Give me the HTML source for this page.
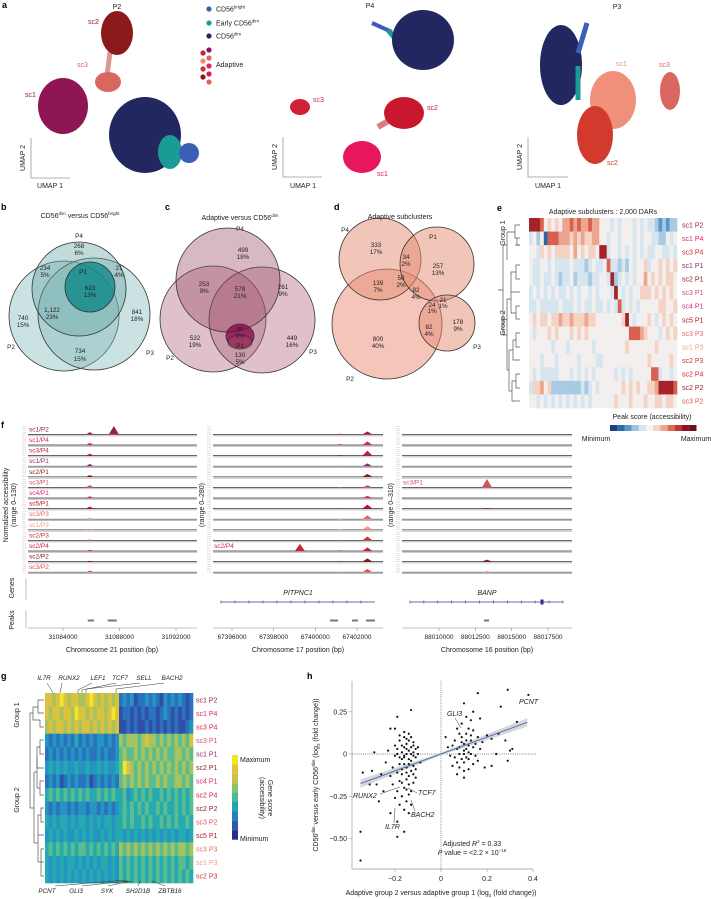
<!DOCTYPE html>
<html><head><meta charset="utf-8">
<style>
html,body{margin:0;padding:0;background:#fff;}
svg{display:block;font-family:"Liberation Sans",sans-serif;}
text{fill:#222;}
.lt{font-weight:bold;font-size:9px;fill:#000;}
.t7{font-size:7px;}
.t6{font-size:6.3px;}
.it{font-style:italic;}
</style></head>
<body>
<svg id="fig" width="711" height="899" viewBox="0 0 711 899">
<rect width="711" height="899" fill="#fff"/>

<!-- ===== Panel a ===== -->
<g>
<text class="lt" x="2" y="8">a</text>
<g>
<text class="t7" x="117" y="9" text-anchor="middle">P2</text>
<path d="M110 52 Q108 68 107 75" stroke="#c5524e" stroke-width="5" fill="none" opacity="0.6"/>
<ellipse cx="117" cy="33" rx="16" ry="22" fill="#8b1a1a"/>
<ellipse cx="108" cy="82" rx="13" ry="10" fill="#d9675f"/>
<ellipse cx="63" cy="106" rx="25" ry="28" fill="#8e1654"/>
<ellipse cx="145" cy="135" rx="36" ry="38" fill="#23275f"/>
<ellipse cx="170" cy="152" rx="12" ry="17" fill="#1b9b96"/>
<ellipse cx="189" cy="153" rx="10" ry="10" fill="#3a5fb5"/>
<text class="t7" x="88" y="24" style="fill:#8b1a1a">sc2</text>
<text class="t7" x="77" y="67" style="fill:#d9675f">sc3</text>
<text class="t7" x="25" y="97" style="fill:#8e1654">sc1</text>
<path d="M31 138 V178 H70" stroke="#999" stroke-width="0.8" fill="none"/>
<text class="t7" transform="translate(25,158) rotate(-90)" text-anchor="middle">UMAP 2</text>
<text class="t7" x="50" y="188" text-anchor="middle">UMAP 1</text>
</g>
<g>
<circle cx="209" cy="9" r="2.6" fill="#3a5fb5"/><text class="t7" x="216" y="11.5">CD56<tspan font-size="4.5" dy="-3">bright</tspan></text>
<circle cx="209" cy="23" r="2.6" fill="#1b9b96"/><text class="t7" x="216" y="25.5">Early CD56<tspan font-size="4.5" dy="-3">dim</tspan></text>
<circle cx="209" cy="36" r="2.6" fill="#23275f"/><text class="t7" x="216" y="38.5">CD56<tspan font-size="4.5" dy="-3">dim</tspan></text>
<circle cx="203" cy="53" r="2.6" fill="#d0213a"/><circle cx="209" cy="50" r="2.6" fill="#8e1654"/>
<circle cx="203" cy="61" r="2.6" fill="#f08a70"/><circle cx="209" cy="58" r="2.6" fill="#d9675f"/>
<circle cx="203" cy="69" r="2.6" fill="#d03030"/><circle cx="209" cy="66" r="2.6" fill="#e0206a"/>
<circle cx="203" cy="77" r="2.6" fill="#8b1a1a"/><circle cx="209" cy="74" r="2.6" fill="#d0213a"/>
<circle cx="209" cy="82" r="2.6" fill="#d9675f"/>
<text class="t7" x="216" y="67">Adaptive</text>
</g>
<g>
<text class="t7" x="370" y="8" text-anchor="middle">P4</text>
<path d="M372 23 L392 32" stroke="#3a5fb5" stroke-width="4" fill="none"/>
<path d="M388 30 L398 42" stroke="#1b9b96" stroke-width="5" fill="none"/>
<ellipse cx="423" cy="40" rx="31" ry="30" fill="#23275f"/>
<ellipse cx="300" cy="107" rx="10" ry="8" fill="#d0213a"/>
<path d="M378 127 L395 117" stroke="#c8203c" stroke-width="6" fill="none" opacity="0.6"/>
<ellipse cx="404" cy="113" rx="20" ry="16" fill="#c8182e"/>
<ellipse cx="362" cy="157" rx="19" ry="16" fill="#e8165f"/>
<text class="t7" x="313" y="102" style="fill:#d0213a">sc3</text>
<text class="t7" x="427" y="110" style="fill:#c8182e">sc2</text>
<text class="t7" x="377" y="176" style="fill:#e8165f">sc1</text>
<path d="M283 137 V177 H322" stroke="#999" stroke-width="0.8" fill="none"/>
<text class="t7" transform="translate(277,157) rotate(-90)" text-anchor="middle">UMAP 2</text>
<text class="t7" x="303" y="188" text-anchor="middle">UMAP 1</text>
</g>
<g>
<text class="t7" x="617" y="9" text-anchor="middle">P3</text>
<ellipse cx="561" cy="65" rx="21" ry="40" fill="#23275f"/>
<path d="M587 23 L578 53" stroke="#3a5fb5" stroke-width="5" fill="none"/>
<path d="M578 66 L578 100" stroke="#1b9b96" stroke-width="5" fill="none"/>
<ellipse cx="613" cy="100" rx="23" ry="29" fill="#f0907a"/>
<ellipse cx="595" cy="135" rx="18" ry="29" fill="#d23a2e"/>
<ellipse cx="670" cy="91" rx="10" ry="19" fill="#d9675f"/>
<text class="t7" x="616" y="66" style="fill:#f0907a">sc1</text>
<text class="t7" x="659" y="67" style="fill:#d9675f">sc3</text>
<text class="t7" x="607" y="165" style="fill:#d23a2e">sc2</text>
<path d="M528 137 V177 H568" stroke="#999" stroke-width="0.8" fill="none"/>
<text class="t7" transform="translate(522,157) rotate(-90)" text-anchor="middle">UMAP 2</text>
<text class="t7" x="548" y="188" text-anchor="middle">UMAP 1</text>
</g>
</g>

<!-- ===== Panel b ===== -->
<g stroke="#333" stroke-width="0.8">
<circle cx="64" cy="316" r="55" fill="rgba(130,185,185,0.42)"/>
<circle cx="94" cy="314" r="56" fill="rgba(130,185,185,0.42)"/>
<circle cx="79" cy="289" r="47" fill="rgba(100,165,165,0.40)"/>
<circle cx="90" cy="287" r="25" fill="rgba(0,130,130,0.72)"/>
</g>
<g>
<text class="lt" x="1" y="210">b</text>
<text class="t7" x="80" y="218" text-anchor="middle">CD56<tspan font-size="4.5" dy="-3">dim</tspan><tspan dy="3"> versus CD56</tspan><tspan font-size="4.5" dy="-3">bright</tspan></text>
<g class="t6" text-anchor="middle">
<text x="79" y="238">P4</text><text x="79" y="248">268</text><text x="79" y="255">6%</text>
<text x="45" y="270">234</text><text x="45" y="277">5%</text>
<text x="119" y="270">21</text><text x="119" y="277">4%</text>
<text x="83" y="274">P1</text><text x="90" y="290">623</text><text x="90" y="297">13%</text>
<text x="52" y="312">1,122</text><text x="52" y="319">23%</text>
<text x="23" y="320">740</text><text x="23" y="327">15%</text>
<text x="137" y="314">841</text><text x="137" y="321">18%</text>
<text x="80" y="353">734</text><text x="80" y="361">15%</text>
<text x="11" y="349">P2</text><text x="150" y="355">P3</text>
</g>
</g>

<!-- ===== Panel c ===== -->
<g stroke="#333" stroke-width="0.8">
<circle cx="213" cy="319" r="53" fill="rgba(170,90,120,0.38)"/>
<circle cx="262" cy="320" r="53" fill="rgba(170,90,120,0.38)"/>
<circle cx="228" cy="280" r="52" fill="rgba(150,70,100,0.38)"/>
<ellipse cx="240" cy="336" rx="14" ry="12" fill="rgba(140,0,70,0.75)"/>
<ellipse cx="240" cy="342" rx="12" ry="7" fill="rgba(170,90,120,0.3)"/>
</g>
<g>
<text class="lt" x="165" y="210">c</text>
<text class="t7" x="240" y="220" text-anchor="middle">Adaptive versus CD56<tspan font-size="4.5" dy="-3">dim</tspan></text>
<g class="t6" text-anchor="middle">
<text x="240" y="231">P4</text><text x="243" y="252">499</text><text x="243" y="259">18%</text>
<text x="204" y="286">253</text><text x="204" y="293">9%</text>
<text x="240" y="291">578</text><text x="240" y="298">21%</text>
<text x="283" y="289">261</text><text x="283" y="296">9%</text>
<text x="195" y="340">532</text><text x="195" y="347">19%</text>
<text x="292" y="340">449</text><text x="292" y="347">16%</text>
<text x="240" y="331">90</text><text x="240" y="338">3%</text>
<text x="240" y="348">P1</text><text x="240" y="357">130</text><text x="240" y="364">5%</text>
<text x="170" y="360">P2</text><text x="313" y="354">P3</text>
</g>
</g>

<!-- ===== Panel d ===== -->
<g stroke="#333" stroke-width="0.8">
<circle cx="387" cy="324" r="55" fill="rgba(235,150,125,0.55)"/>
<circle cx="380" cy="259" r="41" fill="rgba(230,140,115,0.5)"/>
<circle cx="437" cy="264" r="37" fill="rgba(230,140,115,0.5)"/>
<circle cx="447" cy="323" r="28" fill="rgba(230,140,115,0.5)"/>
</g>
<g>
<text class="lt" x="334" y="210">d</text>
<text class="t7" x="400" y="219" text-anchor="middle">Adaptive subclusters</text>
<g class="t6" text-anchor="middle">
<text x="345" y="232">P4</text><text x="376" y="247">333</text><text x="376" y="254">17%</text>
<text x="433" y="239">P1</text>
<text x="406" y="259">34</text><text x="406" y="266">2%</text>
<text x="438" y="268">257</text><text x="438" y="275">13%</text>
<text x="378" y="285">139</text><text x="378" y="292">7%</text>
<text x="401" y="280">50</text><text x="401" y="287">2%</text>
<text x="416" y="292">82</text><text x="416" y="299">4%</text>
<text x="432" y="307">24</text><text x="432" y="313">1%</text>
<text x="443" y="302">21</text><text x="443" y="308">1%</text>
<text x="429" y="329">82</text><text x="429" y="336">4%</text>
<text x="458" y="324">178</text><text x="458" y="331">9%</text>
<text x="378" y="341">800</text><text x="378" y="348">40%</text>
<text x="477" y="349">P3</text><text x="350" y="381">P2</text>
</g>
</g>

<!-- ===== Panel e ===== -->
<g>
<text class="lt" x="497" y="211">e</text>
<text class="t7" x="603" y="214" text-anchor="middle">Adaptive subclusters : 2,000 DARs</text>
<g id="eHeat"></g>
<g id="eLabels"></g>
<g stroke="#555" stroke-width="0.7" fill="none">
<path d="M520 225 H515 V238 H520 M520 245 H517 V238"/>
<path d="M515 232 H507 V260 M520 245 H515"/>
<path d="M520 265 H516 V279 H520 M516 272 H511 V285 M520 292 H511"/>
<path d="M520 306 H516 V319 H520 M516 313 H511"/>
<path d="M520 333 H516 V347 H520 M516 340 H513 V360 H520 M513 350 H509"/>
<path d="M520 374 H516 V388 H520 M516 381 H512 V401 H520 M512 391 H509"/>
<path d="M511 285 V313 M511 299 H507 M509 350 V391 M509 370 H507 M507 299 V370 M507 335 H503 M507 245 H503 M503 245 V335 M503 290 H498"/>
</g>
<text class="t7" transform="translate(505,233) rotate(-90)" text-anchor="middle">Group 1</text>
<text class="t7" transform="translate(505,323) rotate(-90)" text-anchor="middle">Group 2</text>
<text class="t7" x="652" y="419" text-anchor="middle">Peak score (accessibility)</text>
<g id="eBar"></g>
<text class="t7" x="596" y="441" text-anchor="middle">Minimum</text>
<text class="t7" x="696" y="441" text-anchor="middle">Maximum</text>
</g>

<!-- ===== Panel f ===== -->
<g>
<text class="lt" x="1" y="428">f</text>
<text class="t7" transform="translate(8,505) rotate(-90)" text-anchor="middle">Normalized accessibility</text>
<text class="t7" transform="translate(16,505) rotate(-90)" text-anchor="middle">(range 0–130)</text>
<text class="t7" transform="translate(204,505) rotate(-90)" text-anchor="middle">(range 0–280)</text>
<text class="t7" transform="translate(393,505) rotate(-90)" text-anchor="middle">(range 0–310)</text>
<g id="fTracks"></g>
<text class="t7" transform="translate(14,588) rotate(-90)" text-anchor="middle">Genes</text>
<text class="t7" transform="translate(14,620) rotate(-90)" text-anchor="middle">Peaks</text>
<line x1="26" y1="578" x2="26" y2="600" stroke="#999" stroke-width="0.6"/>
<line x1="26" y1="610" x2="26" y2="628" stroke="#999" stroke-width="0.6"/>
<text class="t7 it" x="298" y="595" text-anchor="middle">PITPNC1</text>
<text class="t7 it" x="487" y="595" text-anchor="middle">BANP</text>
<g id="fGenes"></g>
<g id="fAxes"></g>
</g>

<!-- ===== Panel g ===== -->
<g>
<text class="lt" x="1" y="679">g</text>
<g id="gHeat"></g>
<g id="gLabels"></g>
<g class="t6 it" text-anchor="middle">
<text x="44" y="680">IL7R</text>
<text x="69" y="680">RUNX2</text>
<text x="98" y="680">LEF1</text>
<text x="120" y="680">TCF7</text>
<text x="144" y="680">SELL</text>
<text x="172" y="680">BACH2</text>
<text x="47" y="893">PCNT</text>
<text x="76" y="893">GLI3</text>
<text x="107" y="893">SYK</text>
<text x="138" y="893">SH2D1B</text>
<text x="170" y="893">ZBTB16</text>
</g>
<g stroke="#333" stroke-width="0.5" fill="none">
<path d="M47 683 L53 693 M62 683 L60 693 M92 683 L78 690 V693 M116 683 L82 690 V693 M140 683 L86 689 V693 M164 683 L116 689 V693"/>
<path d="M55 886 L126 880 V883 M82 886 L128 881 V883 M108 886 L131 881 V883 M138 886 L140 881 V883 M165 886 L152 881 V883"/>
</g>
<g stroke="#555" stroke-width="0.7" fill="none">
<path d="M44 700 H38 V713 H44 M44 727 H40 V720 M38 707 H33 V720 H40"/>
<path d="M44 740 H40 V754 H44 M40 747 H37 V768 H44 M44 781 H40 V795 H44 M40 788 H37"/>
<path d="M44 808 H41 V822 H44 M41 815 H38 V835 H44 M44 849 H41 V876 H44 M44 862 H41 M41 862 H38 M38 825 V862"/>
<path d="M37 757 V788 M37 772 H34 M38 843 H34 M34 772 V843 M34 808 H30 M33 713 H30 V808"/>
</g>
<text class="t7" transform="translate(19,715) rotate(-90)" text-anchor="middle">Group 1</text>
<text class="t7" transform="translate(19,800) rotate(-90)" text-anchor="middle">Group 2</text>
<g id="gBar"></g>
<text class="t7" x="240" y="762">Maximum</text>
<text class="t7" x="240" y="841">Minimum</text>
<text class="t7" transform="translate(268,798) rotate(90)" text-anchor="middle">Gene score</text>
<text class="t7" transform="translate(260,798) rotate(90)" text-anchor="middle">(accessibility)</text>
</g>

<!-- ===== Panel h ===== -->
<g>
<text class="lt" x="307" y="679">h</text>
<g id="hPlot"></g>
<text class="t7" transform="translate(318,775) rotate(-90)" text-anchor="middle">CD56<tspan font-size="4.5" dy="-3">dim</tspan><tspan dy="3"> versus early CD56</tspan><tspan font-size="4.5" dy="-3">dim</tspan><tspan dy="3"> (log</tspan><tspan font-size="4.5" dy="2">2</tspan><tspan dy="-2"> (fold change))</tspan></text>
<text class="t7" x="441" y="895" text-anchor="middle">Adaptive group 2 versus adaptive group 1 (log<tspan font-size="4.5" dy="2">2</tspan><tspan dy="-2"> (fold change))</tspan></text>
<g class="t7 it">
<text x="519" y="704">PCNT</text>
<text x="447" y="716">GLI3</text>
<text x="418" y="795">TCF7</text>
<text x="353" y="798">RUNX2</text>
<text x="411" y="817">BACH2</text>
<text x="385" y="829">IL7R</text>
</g>
<g stroke="#333" stroke-width="0.5">
<line x1="455" y1="718" x2="461" y2="728"/>
<line x1="380" y1="794" x2="400" y2="787"/>
<line x1="417" y1="793" x2="408" y2="788"/>
<line x1="415" y1="811" x2="411" y2="800"/>
<line x1="394" y1="823" x2="395" y2="808"/>
</g>
<text class="t7" x="472" y="846" text-anchor="middle">Adjusted <tspan font-style="italic">R</tspan><tspan font-size="4.5" dy="-3">2</tspan><tspan dy="3"> = 0.33</tspan></text>
<text class="t7" x="472" y="855" text-anchor="middle"><tspan font-style="italic">P</tspan> value = &lt;2.2 × 10<tspan font-size="4.5" dy="-3">−16</tspan></text>
</g>
</svg>

<script>
const NS = "http://www.w3.org/2000/svg";
function mk(tag, attrs, parent) {
  const el = document.createElementNS(NS, tag);
  for (const k in attrs) el.setAttribute(k, attrs[k]);
  parent.appendChild(el);
  return el;
}
const labelColors = {"sc1 P2":"#9b1b4f","sc1 P4":"#e0206a","sc3 P4":"#d0203a","sc1 P1":"#8a2a6a","sc2 P1":"#8b1a1a","sc3 P1":"#d05060","sc4 P1":"#e0206a","sc5 P1":"#c01020","sc3 P3":"#e06a6a","sc1 P3":"#f0a090","sc2 P3":"#d03030","sc2 P4":"#d0203a","sc2 P2":"#8b1a1a","sc3 P2":"#e05050"};

/* ---------- Panel e data ---------- */
const eRows = ["sc1 P2","sc1 P4","sc3 P4","sc1 P1","sc2 P1","sc3 P1","sc4 P1","sc5 P1","sc3 P3","sc1 P3","sc2 P3","sc2 P4","sc2 P2","sc3 P2"];
const eValues = [
 "8887454546676766766444343444343433212122",
 "3424077766656565566443443444343443322434",
 "4435454555546454554883443434343433443343",
 "4334434333343332343347332324344534454545",
 "4334334323342333233443823434344645454554",
 "3434343433434344343444384343445554545454",
 "3343333343334343343343437343434444455445",
 "4545545565565556554444444584344454345454",
 "4344454544454545444444444447776544434545",
 "4444443444344444434444444454444444544444",
 "4443444344444344443344444444444454444454",
 "4343333344434343434444434343444447734434",
 "3556452222222232343444444545454455688887",
 "4434343434343434344444454445444544554554"
];
const eScale = ["#2d64a3","#5b96c8","#a6cbe3","#d6e6f1","#f3efee","#f5d3c4","#eca58e","#d7604f","#a52229"];

const eX0 = 529, eX1 = 677, eY0 = 218, eY1 = 408;
const eHeat = document.getElementById("eHeat");
const eCw = (eX1 - eX0) / eValues[0].length, eRh = (eY1 - eY0) / eRows.length;
eValues.forEach((row, r) => {
  for (let c = 0; c < row.length; c++) {
    const cell = mk("rect", {x: eX0 + c * eCw, y: eY0 + r * eRh, width: eCw + 0.3, height: eRh + 0.3, fill: eScale[+row[c]]}, eHeat);
    
    
  }
});
const eLab = document.getElementById("eLabels");
eRows.forEach((n, r) => {
  const t = mk("text", {x: 682, y: eY0 + r * eRh + eRh / 2 + 2.5, "font-size": 7, style: "fill:" + labelColors[n]}, eLab);
  t.textContent = n;
  
  
});
const eBar = document.getElementById("eBar");
const eBarColors = ["#1f3f7a","#2f6aa8","#5b96c8","#9cc4e0","#d4e6f1","#f5f2f0","#f6d2c2","#eea58d","#dc6a55","#c0343a","#8e1424","#6a0f1e"];
eBarColors.forEach((col, i) => {
  const b = mk("rect", {x: 610 + i * 7.2, y: 425, width: 7.3, height: 6, fill: col}, eBar);
  
  
});

/* ---------- Panel g data ---------- */
const gRows = ["sc1 P2","sc1 P4","sc3 P4","sc3 P1","sc1 P1","sc2 P1","sc4 P1","sc2 P4","sc2 P2","sc3 P2","sc5 P1","sc3 P3","sc1 P3","sc2 P3"];
const gValues = [
 "7767876776678767676723231223232132323212",
 "7677677687767677678712212121221232121212",
 "6767767676776767676711212112121212121123",
 "3232323242323233232365666567665656565657",
 "2323232323232232322356556565656565566565",
 "3434343343343343433458765656565656565656",
 "2323123232231232323256565656556565566565",
 "4545454545454454545445345454544545454545",
 "3232332323323323232345454545445454454545",
 "4343443434434343443445454454544545454454",
 "3434343343434334343443434343434343434434",
 "4545454545545454545465656565656565656656",
 "4343434434343434434354545454545454545545",
 "4343434343434343434354545454545454545454"
];
const gScale = ["#2b2d8a","#2f4fa8","#2a72bd","#2494c0","#25aab0","#5bbd8e","#a6c35f","#dcc13e","#f3e52a"];
const gX0 = 45, gX1 = 193, gY0 = 693, gY1 = 883;
const gHeat = document.getElementById("gHeat");
const gCw = (gX1 - gX0) / gValues[0].length, gRh = (gY1 - gY0) / gRows.length;
gValues.forEach((row, r) => {
  for (let c = 0; c < row.length; c++) {
    const cell = mk("rect", {x: gX0 + c * gCw, y: gY0 + r * gRh, width: gCw + 0.3, height: gRh + 0.3, fill: gScale[+row[c]]}, gHeat);
    
    
  }
});
const gLab = document.getElementById("gLabels");
gRows.forEach((n, r) => {
  const t = mk("text", {x: 196, y: gY0 + r * gRh + gRh / 2 + 2.5, "font-size": 7, style: "fill:" + labelColors[n]}, gLab);
  t.textContent = n;
  
  
});
const gBar = document.getElementById("gBar");
const gBarColors = ["#f3e52a","#e6c43a","#c8c24e","#8fc06c","#4bb995","#27a2b3","#2a7fc0","#2c5bad","#2b2d8a"];
gBarColors.forEach((col, i) => {
  const b = mk("rect", {x: 232, y: 755 + i * 9.4, width: 6, height: 9.5, fill: col}, gBar);
  
  
});

/* ---------- Panel f data ---------- */
const trackNames = ["sc1/P2","sc1/P4","sc3/P4","sc1/P1","sc2/P1","sc3/P1","sc4/P1","sc5/P1","sc3/P3","sc1/P3","sc2/P3","sc2/P4","sc2/P2","sc3/P2"];
const trackColors = ["#9b1b4f","#e0206a","#c8203c","#8a2a6a","#8b1a1a","#d05060","#e0206a","#c01020","#e06a6a","#f0a090","#d03030","#d0203a","#8b1a1a","#e05050"];
const f1PeakPos = [31085900, 31087600];
const f1PeakA = [30,28,26,30,22,30,22,26,14,12,10,14,10,22];
const f1PeakB = [110,0,0,0,0,0,0,0,0,0,0,0,0,0];
const f2PeakPos = [67401200, 67402500, 67399260];
const f2PeakA = [20,30,20,10,10,10,10,10,10,10,10,20,10,10];
const f2PeakB = [80,100,140,80,80,60,60,110,110,110,110,100,90,90];
const f2PeakC = [0,0,0,0,0,0,0,0,0,0,0,200,0,0];
const f3PeakPos = [88013300];
const f3PeakA = [0,0,0,0,0,260,0,20,0,0,0,0,60,20];

const fPanels = [
  {x0: 28, x1: 197, tick0: 31084000, tickPx0: 63, tick1: 31092000, tickPx1: 176, range: 130,
   ticks: [31084000, 31088000, 31092000], title: "Chromosome 21 position (bp)", tx: 112, axisX: 22},
  {x0: 213, x1: 383, tick0: 67396000, tickPx0: 232, tick1: 67402000, tickPx1: 357, range: 280,
   ticks: [67396000, 67398000, 67400000, 67402000], title: "Chromosome 17 position (bp)", tx: 298, axisX: 207},
  {x0: 402, x1: 572, tick0: 88010000, tickPx0: 439, tick1: 88017500, tickPx1: 548, range: 310,
   ticks: [88010000, 88012500, 88015000, 88017500], title: "Chromosome 16 position (bp)", tx: 487, axisX: 396}
];
fPanels.forEach(p => { p.sx = v => p.tickPx0 + (v - p.tick0) * (p.tickPx1 - p.tickPx0) / (p.tick1 - p.tick0); });
const fPeakSets = [
  [[f1PeakPos[0], f1PeakA, 4], [f1PeakPos[1], f1PeakB, 5]],
  [[f2PeakPos[0], f2PeakA, 3], [f2PeakPos[1], f2PeakB, 5], [f2PeakPos[2], f2PeakC, 5]],
  [[f3PeakPos[0], f3PeakA, 5]]
];
const trackBase = i => 434.4 + i * 10.6;
const fT = document.getElementById("fTracks");
fPanels.forEach((p, pi) => {
  trackNames.forEach((n, i) => {
    const b = trackBase(i);
    mk("line", {x1: p.x0, x2: p.x1, y1: b + 1.3, y2: b + 1.3, stroke: "#bbb", "stroke-width": 1}, fT);
    const ln = mk("line", {x1: p.x0, x2: p.x1, y1: b, y2: b, stroke: "#333", "stroke-width": 0.7}, fT);
    
    
    for (let k = 0; k < 5; k++) mk("line", {x1: p.axisX, x2: p.axisX + 4, y1: b - k * 2, y2: b - k * 2, stroke: "#bbb", "stroke-width": 0.4}, fT);
    fPeakSets[pi].forEach(([pos, arr, hw]) => {
      const h = arr[i] / p.range * 10;
      if (h <= 0) return;
      const x = p.sx(pos);
      const pk = mk("path", {d: `M${x - hw} ${b} L${x} ${b - h} L${x + hw} ${b} Z`, fill: trackColors[i]}, fT);
      
      
    });
    if (pi === 0 || (pi === 1 && n === "sc2/P4") || (pi === 2 && n === "sc3/P1")) {
      const t = mk("text", {x: p.x0 + 1, y: b - 3, "font-size": 6.5, style: "fill:" + trackColors[i]}, fT);
      t.textContent = n;
      
      
    }
  });
});
const geneSpans = [null, [67395470, 67402860], [88008000, 88018530]];
const geneBox = [null, null, 88017090];
const peakBars = [[[31085750, 31086200], [31087160, 31087800]], [[67400700, 67401090], [67401760, 67402050], [67402430, 67402860]], [[88013100, 88013440]]];
const fG = document.getElementById("fGenes");
fPanels.forEach((p, pi) => {
  if (geneSpans[pi]) {
    const x1 = p.sx(geneSpans[pi][0]), x2 = p.sx(geneSpans[pi][1]);
    const gl = mk("line", {x1, x2, y1: 602, y2: 602, stroke: "#3a3aa0", "stroke-width": 0.8}, fG);
    
    
    for (let x = x1; x <= x2; x += (x2 - x1) / 11) mk("line", {x1: x, x2: x, y1: 600.5, y2: 603.5, stroke: "#3a3aa0", "stroke-width": 0.6}, fG);
    if (geneBox[pi]) mk("rect", {x: p.sx(geneBox[pi]) - 1.5, y: 599.5, width: 3, height: 5, fill: "#2a2a90"}, fG);
  }
  peakBars[pi].forEach(([a, bb]) => {
    const r = mk("rect", {x: p.sx(a), y: 619.5, width: p.sx(bb) - p.sx(a), height: 2, fill: "#777"}, fG);
    
    
  });
});
const fA = document.getElementById("fAxes");
fPanels.forEach(p => {
  mk("line", {x1: p.x0, x2: p.x1, y1: 628, y2: 628, stroke: "#888", "stroke-width": 0.6}, fA);
  p.ticks.forEach(v => {
    const x = p.sx(v);
    mk("line", {x1: x, x2: x, y1: 628, y2: 631, stroke: "#888", "stroke-width": 0.6}, fA);
    const t = mk("text", {x, y: 639, "font-size": 6.5, "text-anchor": "middle"}, fA);
    t.textContent = v;
    
    
  });
  const tt = mk("text", {x: p.tx, y: 652, "font-size": 7, "text-anchor": "middle"}, fA);
  tt.textContent = p.title;
  
  
});

/* ---------- Panel h data ---------- */
const hX = [-0.15,-0.14,-0.16,-0.13,-0.17,-0.12,-0.18,-0.15,-0.14,-0.16,-0.11,-0.19,-0.13,-0.17,-0.15,-0.12,-0.20,-0.14,-0.16,-0.18,-0.13,-0.15,-0.17,-0.12,-0.21,-0.19,-0.14,-0.11,-0.16,-0.18,-0.13,-0.17,-0.15,-0.19,-0.22,-0.12,-0.14,-0.10,-0.20,-0.23,-0.16,-0.14,-0.15,-0.13,-0.17,-0.11,-0.24,-0.18,-0.20,-0.16,-0.19,-0.13,-0.26,-0.28,-0.30,-0.25,-0.27,-0.22,-0.20,-0.13,-0.12,-0.17,-0.15,-0.14,-0.16,-0.18,-0.12,-0.21,-0.11,-0.19,-0.14,-0.09,-0.10,-0.15,-0.17,-0.16,-0.19,-0.35,-0.35,-0.34,-0.31,-0.13,-0.19,-0.22,-0.29,-0.14,-0.18,-0.15,-0.12,-0.16,
 0.10,0.12,0.08,0.11,0.09,0.13,0.07,0.10,0.12,0.14,0.06,0.09,0.11,0.13,0.08,0.10,0.07,0.15,0.16,0.05,0.12,0.09,0.14,0.11,0.08,0.10,0.12,0.07,0.13,0.06,0.15,0.17,0.09,0.11,0.10,0.08,0.14,0.05,0.10,0.07,0.12,0.16,0.18,0.20,0.22,0.24,0.26,0.29,0.38,0.30,0.31,0.29,0.16,0.14,0.10,0.11,0.02,0.03,0.19,0.22,0.25,0.33,0.28,0.04,0.13,0.17];
const hY = [0.00,0.02,-0.02,-0.04,0.05,0.01,-0.06,-0.08,0.08,0.10,-0.02,0.03,-0.10,-0.12,-0.15,-0.07,-0.01,-0.18,-0.20,-0.16,0.04,0.06,-0.03,0.05,-0.08,-0.11,-0.13,0.03,0.13,0.08,-0.22,-0.25,-0.28,-0.22,-0.13,-0.17,-0.24,0.00,0.05,0.02,-0.06,-0.03,0.03,0.00,0.01,-0.09,-0.05,-0.30,-0.26,-0.33,-0.40,-0.30,-0.12,-0.18,-0.10,-0.22,-0.28,-0.35,0.15,0.10,0.07,-0.09,-0.11,-0.06,0.04,-0.02,-0.12,-0.18,-0.14,0.00,0.12,-0.05,0.04,-0.21,-0.17,-0.46,-0.49,-0.46,-0.63,-0.11,-0.18,0.26,0.22,0.15,0.01,-0.35,0.11,0.09,-0.01,-0.01,
 0.02,0.05,0.00,-0.02,0.07,0.08,0.03,-0.05,-0.03,0.04,-0.02,0.10,0.12,0.00,-0.08,-0.10,-0.12,0.06,0.10,0.05,0.15,0.18,-0.06,0.08,0.04,0.06,0.01,-0.05,0.11,0.08,-0.01,0.03,-0.03,0.03,0.00,0.12,0.14,-0.07,-0.14,0.15,-0.09,-0.04,0.07,0.11,0.09,0.00,0.28,0.38,0.35,0.02,0.03,-0.04,0.36,0.25,0.30,0.22,0.10,0.04,-0.08,-0.07,0.12,0.19,0.08,-0.01,0.20,0.21];
const hXTicks = [-0.2, 0, 0.2, 0.4];
const hXTickLabels = ["−0.2", "0", "0.2", "0.4"];
const hYTicks = [0.25, 0, -0.25, -0.5];
const hYTickLabels = ["0.25", "0", "−0.25", "−0.50"];
const hFit = [0, 0.5];
const hFitRange = [-0.35, 0.375];

const hxs = v => 441 + v * 230;
const hys = v => 754 - v * 169;
const hP = document.getElementById("hPlot");
mk("line", {x1: 352, x2: 352, y1: 681, y2: 869, stroke: "#999", "stroke-width": 0.7}, hP);
mk("line", {x1: 352, x2: 533, y1: 869, y2: 869, stroke: "#999", "stroke-width": 0.7}, hP);
mk("line", {x1: hxs(0), x2: hxs(0), y1: 681, y2: 869, stroke: "#555", "stroke-width": 0.7, "stroke-dasharray": "1,1.2"}, hP);
mk("line", {x1: 352, x2: 537, y1: hys(0), y2: hys(0), stroke: "#555", "stroke-width": 0.7, "stroke-dasharray": "1,1.2"}, hP);
hXTicks.forEach((v, i) => {
  mk("line", {x1: hxs(v), x2: hxs(v), y1: 869, y2: 872, stroke: "#999", "stroke-width": 0.6}, hP);
  const t = mk("text", {x: hxs(v), y: 881, "font-size": 7, "text-anchor": "middle"}, hP);
  t.textContent = hXTickLabels[i];
  
  
});
hYTicks.forEach((v, i) => {
  mk("line", {x1: 349, x2: 352, y1: hys(v), y2: hys(v), stroke: "#999", "stroke-width": 0.6}, hP);
  const t = mk("text", {x: 347, y: hys(v) + 2.5, "font-size": 7, "text-anchor": "end"}, hP);
  t.textContent = hYTickLabels[i];
  
  
});
const bx0 = hFitRange[0], bx1 = hFitRange[1];
const yf = x => hFit[0] + hFit[1] * x;
const band = mk("path", {d: `M${hxs(bx0)} ${hys(yf(bx0) + 0.025)} L${hxs(0)} ${hys(yf(0) + 0.008)} L${hxs(bx1)} ${hys(yf(bx1) + 0.025)} L${hxs(bx1)} ${hys(yf(bx1) - 0.025)} L${hxs(0)} ${hys(yf(0) - 0.008)} L${hxs(bx0)} ${hys(yf(bx0) - 0.025)} Z`, fill: "#c8c8c8", opacity: 0.7}, hP);


hX.forEach((x, i) => {
  const c = mk("circle", {cx: hxs(x), cy: hys(hY[i]), r: 1.1, fill: "#111"}, hP);
  
  
});
const fit = mk("line", {x1: hxs(bx0), y1: hys(yf(bx0)), x2: hxs(bx1), y2: hys(yf(bx1)), stroke: "#4a6fc0", "stroke-width": 1}, hP);


</script>
</body></html>
